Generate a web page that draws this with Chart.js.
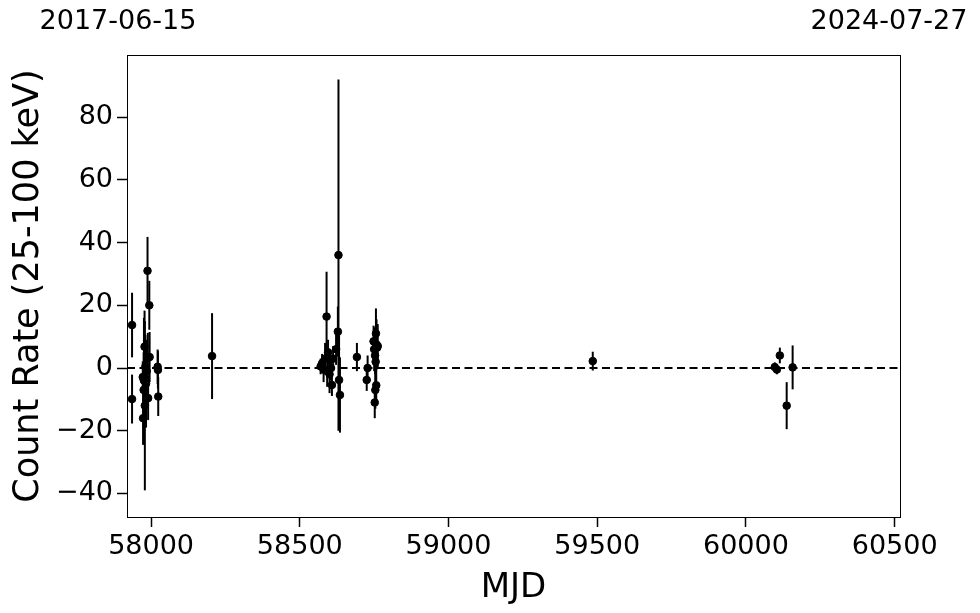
<!DOCTYPE html>
<html>
<head>
<meta charset="utf-8">
<script src="https://cdn.jsdelivr.net/npm/chart.js@4.4.0/dist/chart.umd.min.js"></script>
<style>
  html, body { margin: 0; padding: 0; background: #fff; }
  #c { display: block; }
</style>
</head>
<body>
<canvas id="c" width="980" height="613"></canvas>
<script>
// MJD of each observation
const mjd = [
  57936, 57936, 57972, 57973, 57975, 57976, 57978, 57979, 57981, 57983,
  57985, 57988, 57989, 57990, 57994, 57995, 58022, 58023, 58024, 58205,
  58570, 58575, 58580, 58585, 58590, 58592, 58595, 58600, 58605, 58608,
  58612, 58622, 58628, 58630, 58632, 58635,
  58692, 58725, 58728,
  58748, 58750, 58752, 58753, 58754, 58755, 58756, 58757, 58758, 58760, 58762,
  59485, 60097, 60104, 60114, 60137, 60157
];
// count rate (25-100 keV)
const rate = [
  13.7, -9.9, -2.9, -16, -7, -4, 6.8, -12, 0.5, -5,
  -1, 31, 3.2, -9.6, 20, 3.5, 0.4, -0.6, -9.1, 3.8,
  0.5, 1.5, -0.5, 3, 16.4, -1, 5, -2, 0, -5.4,
  3, 6, 11.6, 36, -3.8, -8.6,
  3.5, -3.8, 0,
  8.5, 6, -11, 4, -7, 2, 11, -5.5, 7.5, 6.5, 7,
  2.2, 0.3, -0.5, 4, -12, 0.2
];
// 1-sigma errors
const rateErr = [
  10.3, 7.8, 5, 8.5, 12, 20, 11.5, 27, 10, 14,
  9, 10.8, 8, 7, 7.8, 8, 5.5, 6, 6.2, 13.7,
  2.5, 3, 4, 5, 14.3, 5, 4, 6, 4, 3.5,
  4, 5, 8, 56, 16, 12,
  4.5, 3.5, 4,
  5, 7, 5, 6, 6, 8, 8, 6, 8, 6, 7,
  3, 1.5, 1.5, 2.5, 7.5, 7
];

const xMin = 57919, xMax = 60518;
const yMin = -47.5, yMax = 99.8;
const xTicks = [58000, 58500, 59000, 59500, 60000, 60500];
const yTicks = [-40, -20, 0, 20, 40, 60, 80];
const dateLabels = ['2017-06-15', '2024-07-27'];

const font = 'DejaVu Sans';

const errorBars = {
  id: 'errorBars',
  beforeDatasetsDraw(chart) {
    const ctx = chart.ctx;
    const xs = chart.scales.x, ys = chart.scales.y;
    ctx.save();
    ctx.beginPath();
    ctx.rect(chart.chartArea.left, chart.chartArea.top,
      chart.chartArea.right - chart.chartArea.left, chart.chartArea.bottom - chart.chartArea.top);
    ctx.clip();
    ctx.strokeStyle = '#000';
    ctx.lineWidth = 2;
    mjd.forEach((m, i) => {
      const px = xs.getPixelForValue(m);
      ctx.beginPath();
      ctx.moveTo(px, ys.getPixelForValue(rate[i] - rateErr[i]));
      ctx.lineTo(px, ys.getPixelForValue(rate[i] + rateErr[i]));
      ctx.stroke();
    });
    ctx.restore();
  }
};

const frame = {
  id: 'frame',
  afterDraw(chart) {
    const { ctx, chartArea: a } = chart;
    ctx.save();
    ctx.strokeStyle = '#000';
    ctx.lineWidth = 1;
    ctx.strokeRect(a.left + 0.5, a.top + 0.5, a.right - a.left, a.bottom - a.top);
    // date labels on top
    ctx.fillStyle = '#000';
    ctx.font = '27px "' + font + '"';
    ctx.textAlign = 'center';
    ctx.textBaseline = 'middle';
    ctx.fillText(dateLabels[0], chart.scales.x.getPixelForValue(xMin) - 9, 22);
    ctx.fillText(dateLabels[1], chart.scales.x.getPixelForValue(xMax) - 11, 22);
    ctx.restore();
  }
};

new Chart(document.getElementById('c'), {
  type: 'scatter',
  data: {
    datasets: [
      {
        data: mjd.map((m, i) => ({ x: m, y: rate[i] })),
        backgroundColor: '#000',
        borderColor: '#000',
        pointRadius: 3.8,
        pointHoverRadius: 3.8,
        order: 1
      },
      {
        type: 'line',
        data: [{ x: xMin, y: 0 }, { x: xMax, y: 0 }],
        borderColor: '#000',
        borderWidth: 2,
        borderDash: [8, 4.5],
        pointRadius: 0,
        fill: false,
        order: 2
      }
    ]
  },
  options: {
    responsive: false,
    animation: false,
    layout: { padding: { top: 55, right: 80, left: 0, bottom: 0 } },
    plugins: {
      legend: { display: false },
      tooltip: { enabled: false }
    },
    scales: {
      x: {
        type: 'linear',
        min: xMin,
        max: xMax,
        afterBuildTicks: s => { s.ticks = xTicks.map(v => ({ value: v })); },
        afterFit: s => { s.height = 96; },
        grid: { drawOnChartArea: false, color: '#000', tickLength: 10, tickWidth: 1.5 },
        border: { color: '#000', width: 1 },
        ticks: { color: '#000', font: { family: font, size: 27 }, padding: 4, maxRotation: 0, callback: v => String(v) },
        title: { display: true, text: 'MJD', color: '#000', font: { family: font, size: 34 }, padding: { top: 0 } }
      },
      y: {
        min: yMin,
        max: yMax,
        afterBuildTicks: s => { s.ticks = yTicks.map(v => ({ value: v })); },
        afterFit: s => { s.width = 127; },
        grid: { drawOnChartArea: false, color: '#000', tickLength: 10, tickWidth: 1.5 },
        border: { color: '#000', width: 1 },
        ticks: {
          color: '#000', font: { family: font, size: 27 }, padding: 4,
          callback: v => (v < 0 ? '\u2212' + Math.abs(v) : String(v))
        },
        title: { display: true, text: 'Count Rate (25-100 keV)', color: '#000', font: { family: font, size: 35 }, padding: { top: 8, bottom: 0 } }
      }
    }
  },
  plugins: [errorBars, frame]
});
</script>
</body>
</html>
